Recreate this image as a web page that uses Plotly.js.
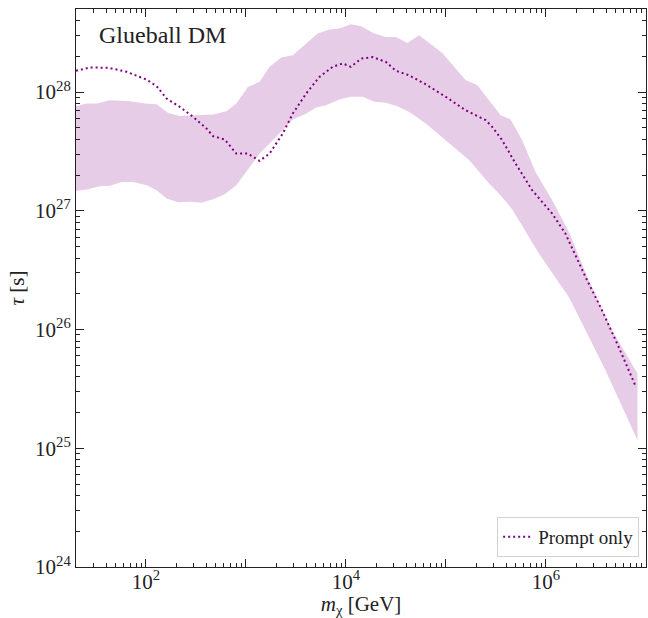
<!DOCTYPE html>
<html>
<head>
<meta charset="utf-8">
<script src="https://cdn.plot.ly/plotly-3.0.1.min.js"></script>
<style>
  html, body { margin: 0; padding: 0; background: #fff; }
  #plot { width: 648px; height: 618px; }
</style>
</head>
<body>
<div id="plot"></div>
<script>
// Glueball dark matter lifetime limits vs. mass.
// Prompt-only limit (dotted line)
const promptMass = [20, 27.7, 42, 64, 102, 128, 161, 218, 297, 403, 469, 614, 802, 1047, 1370, 1723,
  2339, 2944, 4000, 5430, 7370, 9270, 1.12e4, 1.42e4, 1.85e4, 2.51e4, 3.16e4, 4.29e4, 6.29e4, 9.96e4,
  1.57e5, 2.49e5, 2.90e5, 3.65e5, 4.96e5, 7.27e5, 1.15e6, 1.56e6, 2.48e6, 3.62e6, 5.32e6, 7.91e6];
const promptTau = [1.51e28, 1.61e28, 1.60e28, 1.48e28, 1.27e28, 1.12e28, 8.8e27, 7.5e27, 6.17e27, 4.93e27,
  4.25e27, 3.98e27, 3.03e27, 3.03e27, 2.63e27, 3.03e27, 4.48e27, 6.59e27, 9.7e27, 1.34e28, 1.63e28,
  1.74e28, 1.63e28, 1.91e28, 1.97e28, 1.79e28, 1.51e28, 1.38e28, 1.16e28, 9.1e27, 7.03e27, 5.8e27,
  5.09e27, 3.93e27, 2.50e27, 1.49e27, 9.5e26, 6.44e26, 2.78e26, 1.46e26, 7.15e25, 3.30e25];

// Upper edge of the band
const bandUpperMass = [20, 25.6, 32.2, 43.7, 69.2, 97.7, 128, 167, 218, 345, 469, 638, 802, 1047, 1370,
  1723, 2255, 2944, 4000, 5220, 6820, 8590, 1.12e4, 1.42e4, 1.92e4, 2.51e4, 3.16e4, 4.12e4, 5.39e4,
  9.2e4, 1.57e5, 2.06e5, 2.69e5, 3.52e5, 4.43e5, 5.78e5, 7.86e5, 1.15e6, 1.69e6, 2.67e6, 4.56e6, 8.22e6];
const bandUpperTau = [7.59e27, 8.0e27, 8.0e27, 8.53e27, 8.37e27, 8.0e27, 7.89e27, 6.67e27, 6.29e27,
  6.38e27, 6.47e27, 6.89e27, 8.0e27, 1.10e28, 1.22e28, 1.63e28, 1.95e28, 2.04e28, 2.56e28, 3.11e28,
  3.36e28, 3.42e28, 3.72e28, 3.58e28, 3.11e28, 2.91e28, 2.91e28, 2.59e28, 3.01e28, 2.13e28, 1.26e28,
  1.14e28, 8.53e27, 6.38e27, 5.87e27, 3.93e27, 2.12e27, 1.23e27, 6.64e26, 2.61e26, 9.9e25, 4.27e25];

// Lower edge of the band
const bandLowerMass = [20, 25.6, 34.8, 43.7, 57.3, 74.7, 102, 128, 161, 210, 275, 359, 469, 614, 802,
  1047, 1370, 1858, 2339, 2944, 4000, 5040, 6340, 8590, 1.12e4, 1.47e4, 1.92e4, 2.51e4, 3.27e4, 4.29e4,
  6.29e4, 9.2e4, 1.25e5, 1.70e5, 2.80e5, 3.52e5, 4.59e5, 8.47e5, 1.69e6, 2.48e6, 3.92e6, 8.22e6];
const bandLowerTau = [1.47e27, 1.51e27, 1.61e27, 1.62e27, 1.75e27, 1.75e27, 1.64e27, 1.49e27, 1.27e27,
  1.18e27, 1.19e27, 1.17e27, 1.25e27, 1.38e27, 1.64e27, 2.20e27, 3.03e27, 3.93e27, 4.76e27, 5.87e27,
  6.59e27, 7.41e27, 7.75e27, 8.65e27, 9.1e27, 9.1e27, 8.26e27, 8.10e27, 7.59e27, 6.80e27, 5.43e27,
  4.19e27, 3.34e27, 2.67e27, 1.64e27, 1.35e27, 1.03e27, 4.38e26, 1.88e26, 9.9e25, 4.55e25, 1.17e25];

// Axis ticks
const xDecades = [100, 1000, 1e4, 1e5, 1e6, 1e7];
const xDecadeLabels = ["10<sup>2</sup>", "", "10<sup>4</sup>", "", "10<sup>6</sup>", ""];
const yDecades = [1e24, 1e25, 1e26, 1e27, 1e28];
const yDecadeLabels = ["10<sup>24</sup>", "10<sup>25</sup>", "10<sup>26</sup>", "10<sup>27</sup>", "10<sup>28</sup>"];

function minorLogTicks(lo, hi) {
  const vals = [];
  for (let e = lo; e <= hi; e++) {
    for (let d = 2; d <= 9; d++) vals.push(d * Math.pow(10, e));
  }
  return vals;
}

const purple = "#800080";
const font = "'Liberation Serif', 'DejaVu Serif', serif";
const ink = "#222";

// Closed polygon for the shaded band
const bandX = bandUpperMass.concat(bandLowerMass.slice().reverse());
const bandY = bandUpperTau.concat(bandLowerTau.slice().reverse());

const traces = [
  {
    x: bandX, y: bandY, type: "scatter", mode: "lines",
    fill: "toself", fillcolor: "rgba(128,0,128,0.2)",
    line: { width: 0, color: "rgba(0,0,0,0)" },
    showlegend: false, hoverinfo: "skip"
  },
  {
    x: promptMass, y: promptTau, type: "scatter", mode: "lines",
    name: "Prompt only",
    line: { color: purple, width: 2, dash: "2px,3px" }
  }
];

const axisCommon = {
  type: "log",
  showgrid: false,
  zeroline: false,
  showline: true,
  linecolor: ink,
  linewidth: 1,
  mirror: "allticks",
  ticks: "inside",
  ticklen: 8,
  tickwidth: 1,
  tickcolor: ink,
  tickmode: "array",
  tickfont: { family: font, size: 21, color: ink }
};

const layout = {
  width: 648, height: 618,
  margin: { l: 76, r: 2, t: 9, b: 51 },
  paper_bgcolor: "#fff",
  plot_bgcolor: "#fff",
  font: { family: font, color: ink },
  showlegend: true,
  xaxis: Object.assign({}, axisCommon, {
    range: [Math.log10(20), 7],
    tickvals: xDecades,
    ticktext: xDecadeLabels,
    ticklabelstandoff: -4,
    minor: { tickmode: "array", tickvals: minorLogTicks(1, 6), ticks: "inside", ticklen: 4, tickcolor: ink, showgrid: false },
    title: { text: "<i>m</i><sub>χ</sub> [GeV]", font: { family: font, size: 21, color: ink }, standoff: 2 }
  }),
  yaxis: Object.assign({}, axisCommon, {
    range: [24, Math.log10(5e28)],
    tickvals: yDecades,
    ticktext: yDecadeLabels,
    minor: { tickmode: "array", tickvals: minorLogTicks(24, 28), ticks: "inside", ticklen: 4, tickcolor: ink, showgrid: false },
    title: { text: "<i>τ</i> [s]", font: { family: font, size: 21, color: ink }, standoff: 4 }
  }),
  legend: {
    x: 0.988, y: 0.018, xanchor: "right", yanchor: "bottom",
    bgcolor: "rgba(255,255,255,0.9)",
    bordercolor: "#d0d0d0", borderwidth: 1,
    font: { family: font, size: 19, color: ink }
  },
  annotations: [{
    text: "Glueball DM",
    xref: "paper", yref: "paper",
    x: 0.037, y: 0.953, xanchor: "left", yanchor: "middle",
    showarrow: false,
    font: { family: font, size: 24, color: ink }
  }]
};

Plotly.newPlot("plot", traces, layout, { displayModeBar: false, staticPlot: true });
</script>
</body>
</html>
